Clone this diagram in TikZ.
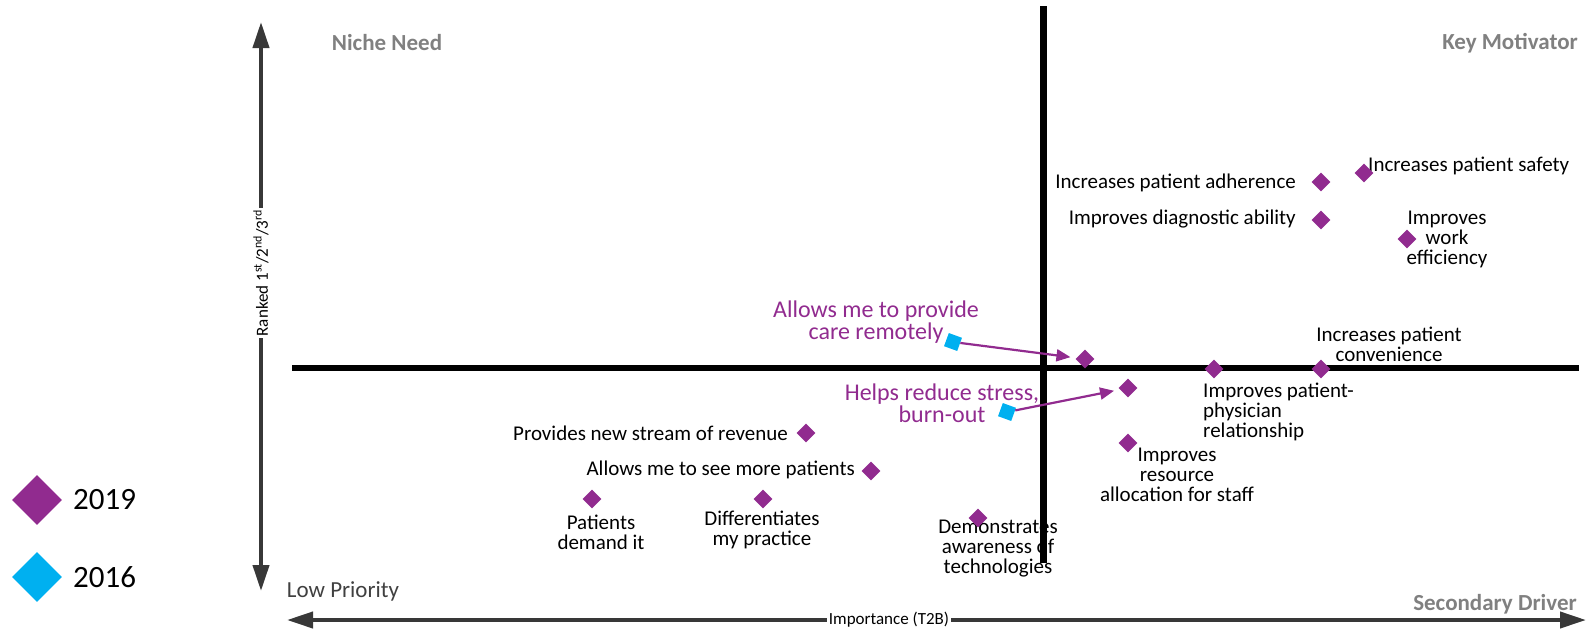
\documentclass[tikz,border=0pt]{standalone}
\usepackage{fontspec}
\setmainfont{Carlito}
\usetikzlibrary{shapes.geometric,arrows.meta}
\definecolor{pur}{HTML}{912B8F}
\definecolor{cy}{HTML}{00B0F0}
\definecolor{hgray}{HTML}{808080}
\definecolor{axgray}{HTML}{383838}
\definecolor{lowgray}{HTML}{404040}
\begin{document}
\begin{tikzpicture}[x=1pt,y=-1pt,
  dia/.style={diamond, fill=pur, inner sep=0pt, minimum width=19pt, minimum height=19pt},
  bigdia/.style={diamond, fill=#1, inner sep=0pt, minimum width=50pt, minimum height=50pt},
  sq/.style={rectangle, fill=cy, inner sep=0pt, minimum size=14pt, rotate=-20},
  lbl/.style={inner sep=0pt, font=\fontsize{21}{20}\selectfont, align=center},
  plbl/.style={inner sep=0pt, text=pur, font=\fontsize{24}{22}\selectfont, align=center},
  head/.style={inner sep=0pt, text=hgray, font=\fontsize{23}{26}\selectfont\bfseries},
  axisline/.style={draw=axgray, line width=4pt, {Triangle[length=26pt,width=16pt]}-{Triangle[length=26pt,width=16pt]}},
  parrow/.style={draw=pur, line width=2.2pt, -{Triangle[length=14pt,width=12pt]}, shorten >=6pt},
  axlbl/.style={fill=white, inner sep=1.5pt, font=\fontsize{17}{19}\selectfont}
]
\useasboundingbox (0,0) rectangle (1589,630);

% quadrant lines
\coordinate (vtop) at (1043,6);
\coordinate (vbot) at (1043,563);
\coordinate (hl) at (292,368);
\coordinate (hr) at (1579,368);
\draw[line width=7pt] (vtop) -- (vbot);
\draw[line width=6pt] (hl) -- (hr);

% axes
\coordinate (ytop) at (261,22);
\coordinate (ybot) at (261,591);
\coordinate (xl) at (287,620);
\coordinate (xr) at (1586,620);
\draw[axisline] (ybot) -- (ytop);
\draw[axisline] (xl) -- (xr);
\node[axlbl, rotate=90] (ylab) at (261,273) {Ranked 1\textsuperscript{st}/2\textsuperscript{nd}/3\textsuperscript{rd}};
\node[axlbl] (xlab) at (889,620) {Importance (T2B)};

% quadrant headings
\node[head] (niche) at (387,43) {Niche Need};
\node[head] (keym) at (1510,43) {Key Motivator};
\node[inner sep=0pt, text=lowgray, font=\fontsize{23}{26}\selectfont] (lowp) at (343,591) {Low Priority};
\node[head] (secd) at (1495,604) {Secondary Driver};

% legend
\node[bigdia=pur] (leg19) at (37,500) {};
\node[bigdia=cy] (leg16) at (37,577) {};
\node[anchor=west, inner sep=0pt, font=\fontsize{31}{34}\selectfont] (leg19t) at (73,500) {2019};
\node[anchor=west, inner sep=0pt, font=\fontsize{31}{34}\selectfont] (leg16t) at (73,577) {2016};

% labels
\node[lbl, anchor=west] (tsafety) at (1368,166) {Increases patient safety};
\node[lbl, anchor=east] (tadh) at (1296,183) {Increases patient adherence};
\node[lbl, anchor=east] (tdiag) at (1296,219) {Improves diagnostic ability};
\node[lbl] (twork) at (1447,239) {Improves\\work\\efficiency};
\node[lbl] (tconv) at (1389,344) {Increases patient\\convenience};
\node[lbl, anchor=west, align=left] (trel) at (1203,412) {Improves patient-\\physician\\relationship};
\node[lbl] (tres) at (1177,475) {Improves\\resource\\allocation for staff};
\node[lbl, anchor=east] (trev) at (788,433) {Provides new stream of revenue};
\node[lbl, anchor=east] (tmore) at (855,470) {Allows me to see more patients};
\node[lbl] (tdem) at (601,532) {Patients\\demand it};
\node[lbl] (tdiff) at (762,530) {Differentiates\\my practice};
\node[lbl] (taware) at (998,549) {Demonstrates\\awareness of\\technologies};
\node[plbl] (tremote) at (876,322) {Allows me to provide\\care remotely};
\node[plbl] (tstress) at (942,403) {Helps reduce stress,\\burn-out};

% 2019 points
\node[dia] (dsafety) at (1364,173) {};
\node[dia] (dadh) at (1321,182) {};
\node[dia] (ddiag) at (1321,220) {};
\node[dia] (dwork) at (1407,239) {};
\node[dia] (dconv) at (1321,369) {};
\node[dia] (drel) at (1214,369) {};
\node[dia] (dremote) at (1085,359) {};
\node[dia] (dstress) at (1128,388) {};
\node[dia] (dres) at (1128,443) {};
\node[dia] (drev) at (806,433) {};
\node[dia] (dmore) at (871,471) {};
\node[dia] (ddem) at (592,499) {};
\node[dia] (ddiff) at (763,499) {};
\node[dia] (daware) at (978,518) {};

% 2016 points
\node[sq] (bremote) at (953,342) {};
\node[sq] (bstress) at (1007,412) {};

% shifts
\draw[parrow] (bremote) -- (dremote);
\draw[parrow] (bstress) -- (dstress);
\end{tikzpicture}
\end{document}
